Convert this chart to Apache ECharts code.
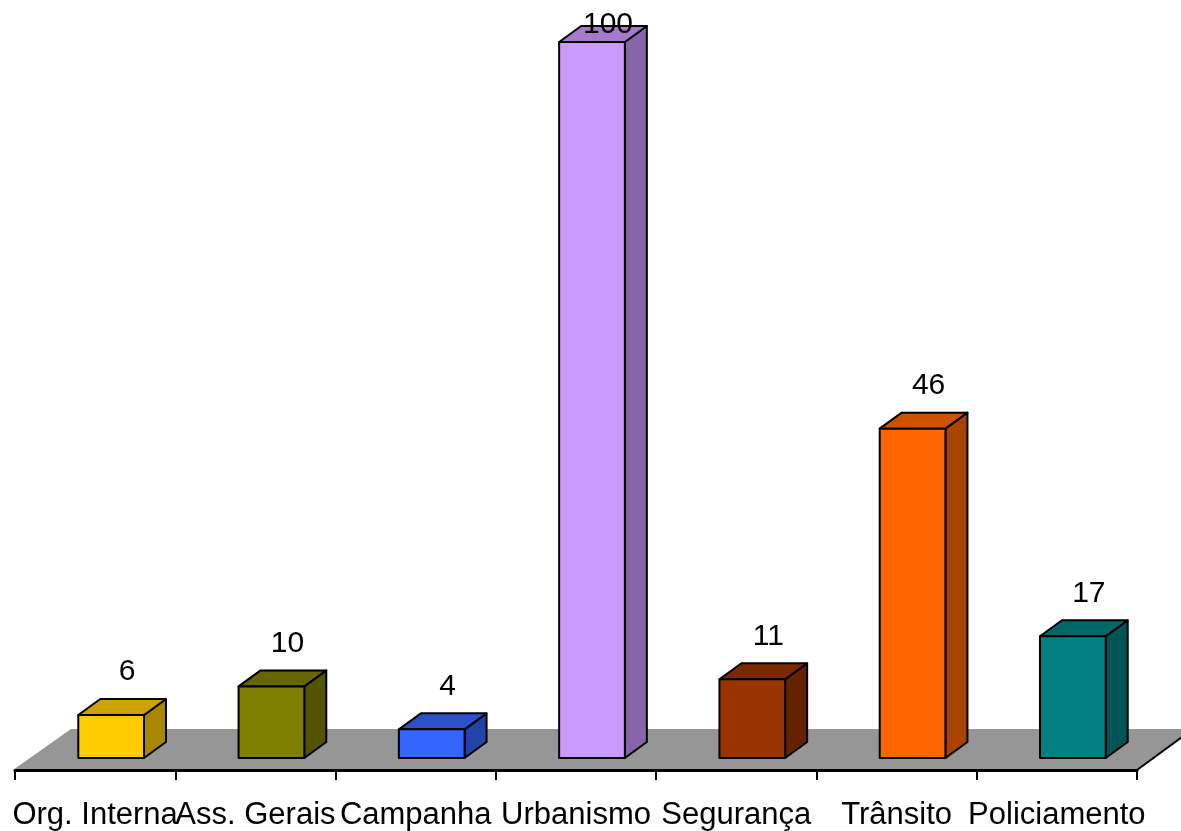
<!DOCTYPE html>
<html>
<head>
<meta charset="utf-8">
<script src="https://cdn.jsdelivr.net/npm/echarts@6/dist/echarts.min.js"></script>
<style>
  html, body { margin: 0; padding: 0; background: #fff; }
  #main { width: 1181px; height: 831px; }
</style>
</head>
<body>
<div id="main"></div>
<script>
// categorias e valores
var categories = ['Org. Interna', 'Ass. Gerais', 'Campanha', 'Urbanismo', 'Segurança', 'Trânsito', 'Policiamento'];
var values = [6, 10, 4, 100, 11, 46, 17];

// cores da face frontal de cada barra
var barColors = ['#FFCC00', '#808000', '#3366FF', '#CC99FF', '#993300', '#FF6600', '#008080'];

// "profundidade" 3d (em px)
var FLOOR_DX = 56, FLOOR_DY = 41;   // chao
var OFF_X = 16, OFF_Y = 12;         // barra recuada no chao
var BAR_DX = 22, BAR_DY = 16;       // espessura da barra

function shade(hex, k) {
  var c = echarts.color.parse(hex);
  return 'rgb(' + Math.round(c[0] * k) + ',' + Math.round(c[1] * k) + ',' + Math.round(c[2] * k) + ')';
}

var chart = echarts.init(document.getElementById('main'), null, { renderer: 'canvas' });

function renderFloor(params, api) {
  var cs = params.coordSys;
  var x0 = cs.x, x1 = cs.x + cs.width, y0 = cs.y + cs.height;
  return {
    type: 'group',
    children: [{
      type: 'polygon',
      shape: { points: [[x0 - 2, y0], [x1, y0], [x1 + FLOOR_DX, y0 - FLOOR_DY], [x0 + FLOOR_DX, y0 - FLOOR_DY]] },
      style: { fill: '#969696', stroke: null }
    }, {
      type: 'line',
      shape: { x1: x1, y1: y0, x2: x1 + FLOOR_DX, y2: y0 - FLOOR_DY },
      style: { stroke: '#000', lineWidth: 2 }
    }]
  };
}

function renderBar(params, api) {
  var i = api.value(0);
  var v = api.value(1);
  var base = api.coord([i, 0]);
  var top = api.coord([i, v]);
  var catW = api.size([1, 0])[0];
  var w = catW * 0.41;
  var fl = base[0] - w / 2 + OFF_X;
  var fr = fl + w;
  var fb = base[1] - OFF_Y;
  var ft = top[1] - OFF_Y;
  var col = barColors[params.dataIndex];
  var stroke = { stroke: '#000', lineWidth: 2, lineJoin: 'round' };
  var labelY = Math.max(ft - BAR_DY - 27, 25);
  return {
    type: 'group',
    children: [{
      type: 'polygon',
      shape: { points: [[fr, ft], [fr + BAR_DX, ft - BAR_DY], [fr + BAR_DX, fb - BAR_DY], [fr, fb]] },
      style: Object.assign({ fill: shade(col, 0.66) }, stroke)
    }, {
      type: 'polygon',
      shape: { points: [[fl, ft], [fr, ft], [fr + BAR_DX, ft - BAR_DY], [fl + BAR_DX, ft - BAR_DY]] },
      style: Object.assign({ fill: shade(col, 0.8) }, stroke)
    }, {
      type: 'rect',
      shape: { x: fl, y: ft, width: w, height: fb - ft },
      style: Object.assign({ fill: col }, stroke)
    }, {
      type: 'text',
      style: {
        text: String(values[params.dataIndex]),
        x: fl + w / 2 + BAR_DX / 2 + 5,
        y: labelY,
        align: 'center',
        verticalAlign: 'middle',
        fill: '#000',
        font: '30px "Liberation Sans", Arial, sans-serif'
      }
    }]
  };
}

var barData = values.map(function (v, i) { return [i, v]; });

var option = {
  backgroundColor: '#fff',
  animation: false,
  grid: { left: 15, right: 44, top: 54, bottom: 61, containLabel: false, outerBoundsMode: 'none' },
  xAxis: {
    type: 'category',
    data: categories,
    z: 5,
    axisLine: { show: true, lineStyle: { color: '#000', width: 3 } },
    axisTick: { show: true, length: 10, lineStyle: { color: '#000', width: 2 } },
    axisLabel: {
      interval: 0,
      margin: 30,
      color: '#000',
      fontSize: 31,
      fontFamily: '"Liberation Sans", Arial, sans-serif'
    }
  },
  yAxis: {
    type: 'value',
    min: 0,
    max: 100,
    show: false,
    splitLine: { show: false }
  },
  series: [{
    type: 'custom',
    name: 'floor',
    z: 1,
    data: [[0, 0]],
    renderItem: renderFloor,
    silent: true
  }, {
    type: 'custom',
    name: 'bars',
    z: 2,
    data: barData,
    encode: { x: 0, y: 1 },
    renderItem: renderBar
  }]
};

chart.setOption(option);
</script>
</body>
</html>
